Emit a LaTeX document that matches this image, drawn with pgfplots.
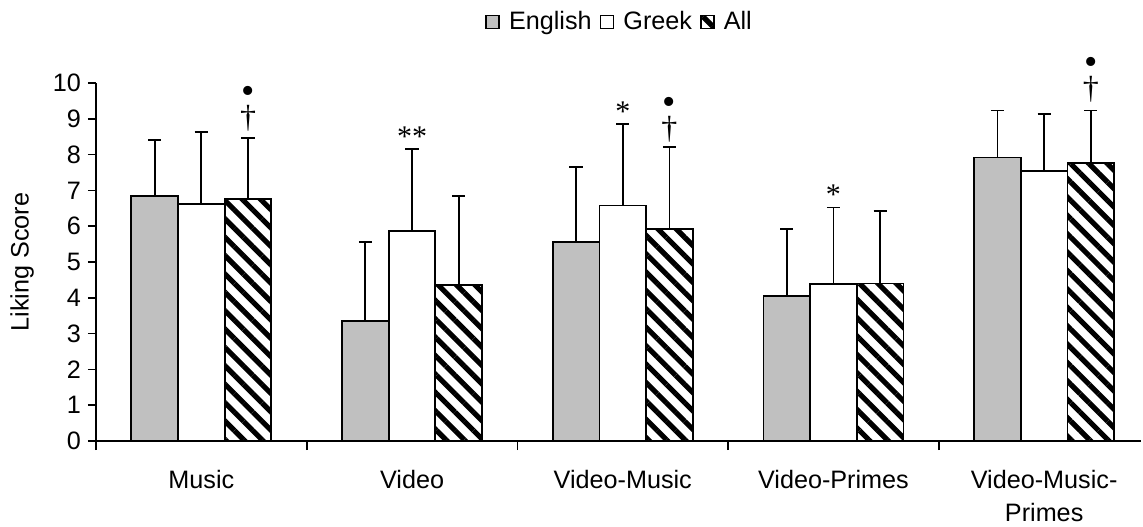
\documentclass[border=0pt]{standalone}
\usepackage{pgfplots}
\pgfplotsset{compat=1.18}
\usepackage{fontspec}
\setmainfont{Liberation Sans}
\newfontfamily\seriffont{Liberation Serif}
\usetikzlibrary{patterns.meta,calc}
\definecolor{barGray}{RGB}{192,192,192}
\newcommand\lbl{\fontsize{12.6bp}{16.5bp}\selectfont}
\newcommand\dgfont{\seriffont\fontsize{16bp}{10.5bp}\selectfont}
\newcommand\astfont{\seriffont\fontsize{15bp}{15bp}\selectfont}
\newcommand\bulfont{\fontsize{19bp}{10.5bp}\selectfont}
\begin{document}
\begin{tikzpicture}
\begin{axis}[
  x=105.35bp, y=17.9bp,
  xmin=-0.5, xmax=4.46, ymin=0, ymax=10,
  clip=false,
  axis lines*=left,
  axis line style={line width=0.8bp},
  ytick={0,...,10},
  xtick={0,...,4},
  xticklabels={Music,Video,Video-Music,Video-Primes,{Video-Music-\\Primes}},
  xticklabel style={align=center, font=\lbl, yshift=-7bp},
  yticklabel style={font=\lbl},
  /pgf/number format/assume math mode=true,
  major x tick style={draw=none},
  minor xtick={-0.5,0.5,1.5,2.5,3.5},
  tick align=outside,
  tick style={line width=0.8bp, black},
  major tick length=4bp, minor tick length=4.5bp,
  ylabel={Liking Score},
  every axis y label/.style={at={(rel axis cs:0,0.5)}, rotate=90, anchor=center, yshift=37bp, font=\lbl},
  legend style={at={(rel axis cs:0.5,1)}, anchor=center, xshift=1bp, yshift=30.5bp, draw=none, font=\lbl,
    /tikz/every odd column/.append style={column sep=2.5bp},
    /tikz/every even column/.append style={column sep=2bp}},
  legend columns=3,
  legend image code/.code={\draw[#1, line width=0.8bp] (0bp,-3.3bp) rectangle (6.6bp,3.3bp);},
  every axis plot/.append style={ybar, bar width=0.2216, bar shift=0pt, draw=black, line width=0.9bp,
    error bars/y dir=plus, error bars/y explicit,
    error bars/error bar style={line width=0.9bp, black, solid},
    error bars/error mark options={rotate=90, mark size=3.3bp, line width=0.9bp, black}},
]
\coordinate (O) at (axis cs:-0.5,0);
\addplot[fill=barGray] coordinates {
  (-0.2216,6.84) +- (0,1.57)
  (0.7784,3.35) +- (0,2.20)
  (1.7784,5.55) +- (0,2.10)
  (2.7784,4.05) +- (0,1.87)
  (3.7784,7.92) +- (0,1.31)
};
\addlegendentry{English}
\addplot[fill=white] coordinates {
  (0,6.62) +- (0,2.02)
  (1,5.87) +- (0,2.28)
  (2,6.58) +- (0,2.27)
  (3,4.38) +- (0,2.14)
  (4,7.55) +- (0,1.58)
};
\addlegendentry{Greek}
\addplot[fill=white, postaction={pattern={Lines[angle=-45, distance=6.5bp, line width=2.6bp]}}] coordinates {
  (0.2216,6.75) +- (0,1.72)
  (1.2216,4.35) +- (0,2.50)
  (2.2216,5.92) +- (0,2.29)
  (3.2216,4.40) +- (0,2.02)
  (4.2216,7.77) +- (0,1.46)
};
\addlegendentry{All}
% significance markers
\begin{scope}[every node/.style={inner sep=0pt}]
\node[font=\dgfont, align=center, anchor=south] at (axis cs:0.2216,8.63) {{\bulfont •}\\†};
\node[font=\astfont] at (axis cs:1,8.49) {**};
\node[font=\astfont] at (axis cs:2,9.2) {*};
\node[font=\dgfont, align=center, anchor=south] at (axis cs:2.2216,8.32) {{\bulfont •}\\†};
\node[font=\astfont] at (axis cs:3,6.89) {*};
\node[font=\dgfont, align=center, anchor=south] at (axis cs:4.2216,9.44) {{\bulfont •}\\†};
\end{scope}
\end{axis}
\pgfresetboundingbox
\path[use as bounding box] ($(O)+(-48bp,-43bp)$) rectangle ($(O)+(523.5bp,220.5bp)$);
\end{tikzpicture}
\end{document}
